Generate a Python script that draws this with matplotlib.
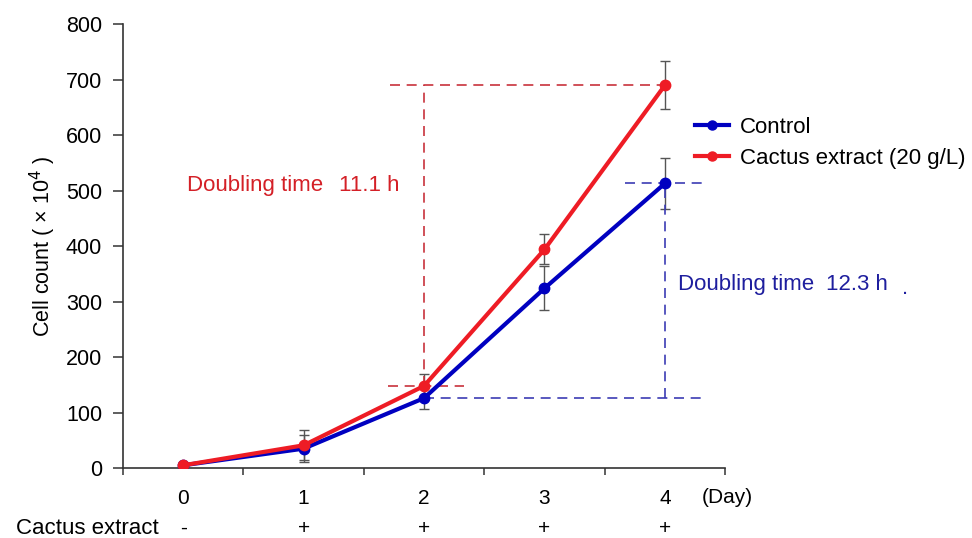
"""Cell growth curve: control vs cactus extract, with doubling-time guides."""

import matplotlib.pyplot as plt
from matplotlib.lines import Line2D
from matplotlib.transforms import blended_transform_factory

plt.rcParams["font.family"] = ["Liberation Sans", "DejaVu Sans"]

days = [0, 1, 2, 3, 4]
control = [5, 35, 126, 324, 513]
control_err = [3, 24, 20, 40, 46]
cactus = [5, 41, 148, 394, 690]
cactus_err = [3, 27, 22, 27, 43]
treatment = ["-", "+", "+", "+", "+"]
y_ticks = [0, 100, 200, 300, 400, 500, 600, 700, 800]

RED = "#ee1c25"
BLUE = "#0000c0"
RED_DASH = "#c8323c"
BLUE_DASH = "#3c3cb4"
RED_TXT = "#d42027"
BLUE_TXT = "#1e1e9e"
ERR = "#555555"

fig = plt.figure(figsize=(9.72, 5.38), dpi=100)
ax = fig.add_axes([0.1265, 0.130, 0.6195, 0.825])

# error bars behind the lines
for values, errs in ((control, control_err), (cactus, cactus_err)):
    ax.errorbar(days, values, yerr=errs, fmt="none", ecolor=ERR,
                elinewidth=1.0, capsize=3.5, capthick=1.0, zorder=2)

ax.plot(days, control, color=BLUE, lw=3, marker="o", ms=7.5,
        mfc=BLUE, mec=BLUE, zorder=4, label="Control")
ax.plot(days, cactus, color=RED, lw=3, marker="o", ms=7.5,
        mfc=RED, mec=RED, zorder=5, label="Cactus extract (20 g/L)")

# doubling time guides - cactus
dash = dict(lw=1.2, dashes=(6, 4), zorder=3)
ax.plot([1.72, days[4]], [cactus[4], cactus[4]], color=RED_DASH, **dash)
ax.plot([days[2], days[2]], [cactus[2], cactus[4]], color=RED_DASH, **dash)
ax.plot([1.70, 2.33], [cactus[2], cactus[2]], color=RED_DASH, **dash)

# doubling time guides - control
ax.plot([3.67, 4.31], [control[4], control[4]], color=BLUE_DASH, **dash)
ax.plot([days[4], days[4]], [control[2], control[4]], color=BLUE_DASH, **dash)
ax.plot([days[2], 4.31], [control[2], control[2]], color=BLUE_DASH, **dash)

ax.text(0.03, 510, "Doubling time", color=RED_TXT, fontsize=16,
        va="center", ha="left")
ax.text(1.295, 510, "11.1 h", color=RED_TXT, fontsize=16,
        va="center", ha="left")
ax.text(4.11, 331, "Doubling time", color=BLUE_TXT, fontsize=16,
        va="center", ha="left")
ax.text(5.34, 331, "12.3 h", color=BLUE_TXT, fontsize=16,
        va="center", ha="left", clip_on=False)
ax.text(5.97, 324, ".", color=BLUE_TXT, fontsize=16, va="center", ha="left",
        clip_on=False)

ax.set_xlim(-0.5, 4.5)
ax.set_ylim(0, 800)
ax.set_yticks(y_ticks)
ax.tick_params(axis="y", labelsize=15.5, length=7, width=1.1, color="#333333",
               pad=8)

# category axis: ticks between days, labels under days
ax.set_xticks([d - 0.5 for d in days] + [days[-1] + 0.5])
ax.set_xticklabels([])
ax.set_xticks(days, minor=True)
ax.set_xticklabels([str(d) for d in days], minor=True)
ax.tick_params(axis="x", which="major", length=5, width=1.1, color="#333333")
ax.tick_params(axis="x", which="minor", length=0, labelsize=15, pad=15)

for side in ("top", "right"):
    ax.spines[side].set_visible(False)
for side in ("left", "bottom"):
    ax.spines[side].set_color("#333333")
    ax.spines[side].set_linewidth(1.2)

ax.set_ylabel("Cell count ( × 10$^4$ )", fontsize=15.5, labelpad=6)

trans = blended_transform_factory(ax.transData, ax.transAxes)
ax.text(4.31, -0.067, "(Day)", transform=trans, fontsize=15,
        ha="left", va="center")
ax.text(-0.2, -0.136, "Cactus extract", transform=trans, fontsize=16,
        ha="right", va="center")
for d, sign in zip(days, treatment):
    ax.text(d, -0.136, sign, transform=trans, fontsize=15,
            ha="center", va="center")

handles = [
    Line2D([], [], color=BLUE, lw=3, marker="o", ms=6.5),
    Line2D([], [], color=RED, lw=3, marker="o", ms=6.5),
]
fig.legend(handles, ["Control", "Cactus extract (20 g/L)"],
           loc="upper left", bbox_to_anchor=(0.694, 0.820), frameon=False,
           fontsize=16, handlelength=1.55, handletextpad=0.5,
           labelspacing=0.45)

fig.savefig("out.png", dpi=100)
